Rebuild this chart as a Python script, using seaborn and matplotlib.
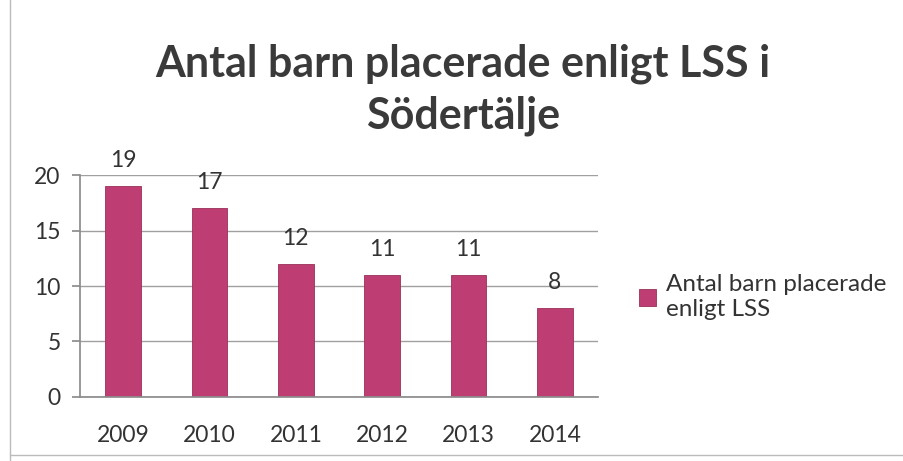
import matplotlib
matplotlib.use("Agg")
import matplotlib.pyplot as plt
import seaborn as sns
import pandas as pd

# data
years = ["2009", "2010", "2011", "2012", "2013", "2014"]
children = [19, 17, 12, 11, 11, 8]
series_name = "Antal barn placerade\nenligt LSS"

df = pd.DataFrame({"year": years, "count": children, "series": series_name})

sns.set_theme(style="white")
plt.rcParams["font.family"] = ["Lato", "DejaVu Sans"]

bar_color = "#BE3D72"
text_color = "#333333"

fig = plt.figure(figsize=(9.04, 4.61), dpi=100)
ax = fig.add_axes([0.0885, 0.139, 0.573, 0.481])

sns.barplot(data=df, x="year", y="count", hue="series", palette=[bar_color],
            saturation=1, width=0.41, edgecolor="#9A2F58", linewidth=0.6, ax=ax)

ax.set_ylim(0, 20)
ax.set_yticks([0, 5, 10, 15, 20])
ax.yaxis.grid(True, color="#A0A0A0", linewidth=1)
ax.set_axisbelow(True)
for s in ["top", "right"]:
    ax.spines[s].set_visible(False)
for s in ["left", "bottom"]:
    ax.spines[s].set_color("#8C8C8C")
ax.tick_params(axis="y", length=6, color="#8C8C8C", labelsize=16.5, labelcolor=text_color, pad=8, left=True)
ax.tick_params(axis="x", length=0, labelsize=16.5, labelcolor=text_color, pad=20)
ax.set_xlabel("")
ax.set_ylabel("")

ax.bar_label(ax.containers[0], fmt="%d", padding=11, fontsize=16.5, color=text_color)

handles, labels = ax.get_legend_handles_labels()
ax.legend(handles, labels, loc="center left", bbox_to_anchor=(1.06, 0.45), frameon=False,
          fontsize=17.5, labelcolor=text_color, handlelength=0.7, handleheight=0.7,
          handletextpad=0.4, borderaxespad=0)

fig.suptitle("Antal barn placerade enligt LSS i\nSödertälje", x=0.512, y=0.905,
             fontsize=31, fontweight="bold", color="#3A3A3A", linespacing=1.35)

# chart border (scanned frame)
fig.add_artist(plt.Line2D([0.011, 0.011], [0.0, 1.0], color="#BBBBBB", linewidth=1))
fig.add_artist(plt.Line2D([0.011, 1.0], [0.013, 0.013], color="#BBBBBB", linewidth=1))

fig.savefig("out.png", dpi=100)
